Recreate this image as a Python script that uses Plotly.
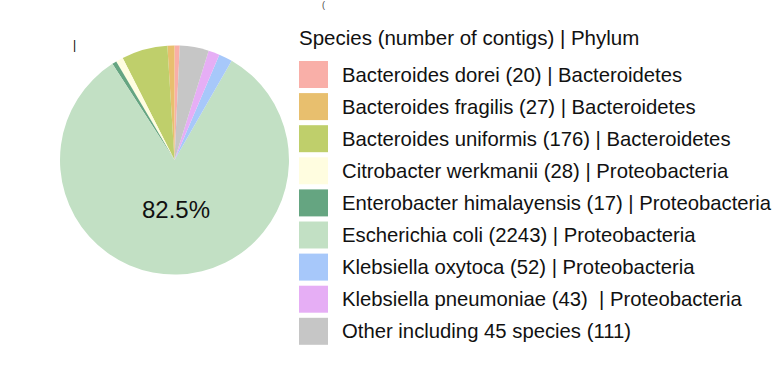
import plotly.graph_objects as go

# ---- data ----
species = [
    "Bacteroides dorei (20) | Bacteroidetes",
    "Bacteroides fragilis (27) | Bacteroidetes",
    "Bacteroides uniformis (176) | Bacteroidetes",
    "Citrobacter werkmanii (28) | Proteobacteria",
    "Enterobacter himalayensis (17) | Proteobacteria",
    "Escherichia coli (2243) | Proteobacteria",
    "Klebsiella oxytoca (52) | Proteobacteria",
    "Klebsiella pneumoniae (43)  | Proteobacteria",
    "Other including 45 species (111)",
]
contigs = [20, 27, 176, 28, 17, 2243, 52, 43, 111]
slice_text = ["", "", "", "", "", "82.5%", "", "", ""]
colors = ["#F9AFA8", "#E8BF6E", "#BFCF6B", "#FFFDE0", "#65A581",
          "#C2E0C4", "#A7C8FA", "#E6AEF5", "#C6C6C6"]
legend_title = "Species (number of contigs) | Phylum"

W, H = 778, 373
FONT = "Liberation Sans, Arial, Helvetica, sans-serif"


def px(x):
    return x / W


def py(y):
    return 1 - y / H


fig = go.Figure(
    go.Pie(
        labels=species,
        values=contigs,
        textinfo="none",
        marker=dict(colors=colors, line=dict(width=0)),
        sort=False,
        direction="counterclockwise",
        rotation=0,
        showlegend=False,
        hoverinfo="label+value+percent",
        domain=dict(x=[px(60), px(289)], y=[py(275), py(45)]),
    )
)

shapes = []
annotations = []
# slice label (large slice)
big = contigs.index(max(contigs))
annotations.append(dict(
    x=px(176), y=py(209), xref="paper", yref="paper",
    text=slice_text[big], showarrow=False, xanchor="center", yanchor="middle",
    font=dict(size=24, color="#111111", family=FONT),
))
# legend title
annotations.append(dict(
    x=px(297), y=py(38), xref="paper", yref="paper",
    text=legend_title, showarrow=False, xanchor="left", yanchor="middle",
    font=dict(size=20.5, color="#111111", family=FONT),
))
# legend entries
y0 = 74.5
step = 32.1
for i, (lab, col) in enumerate(zip(species, colors)):
    yc = y0 + i * step
    shapes.append(dict(
        type="rect", xref="paper", yref="paper",
        x0=px(299), x1=px(328), y0=py(yc - 13.5), y1=py(yc + 13.5),
        fillcolor=col, line=dict(width=0),
    ))
    annotations.append(dict(
        x=px(340), y=py(yc), xref="paper", yref="paper",
        text=lab, showarrow=False, xanchor="left", yanchor="middle",
        font=dict(size=20.3, color="#111111", family=FONT),
    ))

# small stray marks visible in the source image (cropped glyphs)
annotations.append(dict(
    x=px(74.5), y=py(45), xref="paper", yref="paper",
    text="|", showarrow=False, xanchor="center", yanchor="middle",
    font=dict(size=12, color="#000000", family=FONT),
))
annotations.append(dict(
    x=px(323), y=py(5), xref="paper", yref="paper",
    text="(", showarrow=False, xanchor="center", yanchor="middle",
    font=dict(size=9, color="#444444", family=FONT),
))

fig.update_layout(
    width=W, height=H,
    margin=dict(l=0, r=0, t=0, b=0),
    paper_bgcolor="white", plot_bgcolor="white",
    shapes=shapes, annotations=annotations,
    font=dict(family=FONT),
)

fig.write_html(
    "out.html",
    config={"displayModeBar": False},
    post_script="document.body.style.margin='0';document.body.style.padding='0';",
)
